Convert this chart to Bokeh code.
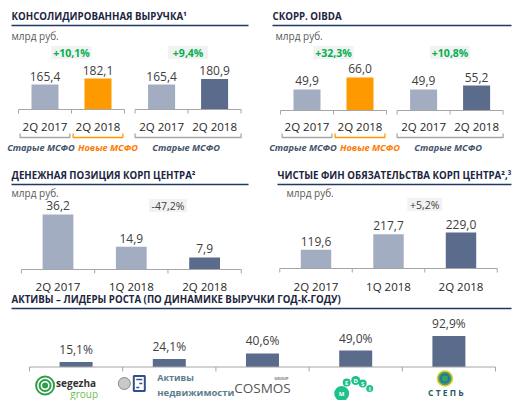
from bokeh.plotting import figure
from bokeh.models import Range1d
from bokeh.embed import file_html
from bokeh.resources import INLINE
from bokeh.core.properties import value

# ---------------- data ----------------
rev_periods = ["2Q 2017", "2Q 2018"]
rev_new_ifrs = [165.4, 182.1]
rev_old_ifrs = [165.4, 180.9]
rev_growth = ["+10,1%", "+9,4%"]

oibda_periods = ["2Q 2017", "2Q 2018"]
oibda_new_ifrs = [49.9, 66.0]
oibda_old_ifrs = [49.9, 55.2]
oibda_growth = ["+32,3%", "+10,8%"]

standard_labels = ["Старые МСФО", "Новые МСФО", "Старые МСФО"]

cash_periods = ["2Q 2017", "1Q 2018", "2Q 2018"]
cash_values = [36.2, 14.9, 7.9]
cash_change = "-47,2%"

debt_periods = ["2Q 2017", "1Q 2018", "2Q 2018"]
debt_values = [119.6, 217.7, 229.0]
debt_change = "+5,2%"

asset_names = ["Segezha Group", "Активы недвижимости", "COSMOS GROUP", "MEDSI", "СТЕПЬ"]
asset_growth = [15.1, 24.1, 40.6, 49.0, 92.9]

titles = ["КОНСОЛИДИРОВАННАЯ ВЫРУЧКА¹", "СКОРР. OIBDA",
          "ДЕНЕЖНАЯ ПОЗИЦИЯ КОРП ЦЕНТРА²", "ЧИСТЫЕ ФИН ОБЯЗАТЕЛЬСТВА КОРП ЦЕНТРА²,³",
          "АКТИВЫ – ЛИДЕРЫ РОСТА (ПО ДИНАМИКЕ ВЫРУЧКИ ГОД-К-ГОДУ)"]
unit_label = "млрд руб."

# ---------------- style ----------------
FONT = value("Open Sans")
LIGHT = "#a3adc2"
DARK = "#5b6b8b"
ORANGE = "#ff9900"
AXIS = "#a6a6a6"
NAVY = "#1f3864"
TITLE_C = "#1b2540"
VAL_C = "#404040"
CAT_C = "#262626"
GREEN = "#00b050"
SLATE = "#44546a"
NEW_C = "#ff7a00"
TITLE_SIZE = "9.7px"

W, H = 512, 400
BAR_STEP = 53.0


def fmt(v):
    return f"{v:.1f}".replace(".", ",")


p = figure(width=W, height=H, x_range=Range1d(0, W), y_range=Range1d(H, 0),
           output_backend="svg", toolbar_location=None, x_axis_type=None, y_axis_type=None,
           min_border=0, outline_line_color=None, background_fill_color="white",
           border_fill_color="white")
p.min_border_left = p.min_border_right = p.min_border_top = p.min_border_bottom = 0

xr_extra, yr_extra = {}, {}


def add_ranges(name, x0px, xs, ybase_px, ybase_val, ys):
    xr_extra[name] = Range1d((0 - x0px) / xs, (W - x0px) / xs)
    yr_extra[name] = Range1d(ybase_val - (H - ybase_px) / ys, ybase_val + ybase_px / ys)


add_ranges("A", 44.5, BAR_STEP, 109, 96.0, 0.36)
add_ranges("B", 306.5, BAR_STEP, 110, 21.7, 0.745)
add_ranges("C", 57.5, 73.3, 269, 0.0, 1.52)
add_ranges("D", 315.5, 72.5, 268, 0.0, 0.157)
E_X0, E_XS = 75.6, 93.2
add_ranges("E", E_X0, E_XS, 366.5, 0.0, 0.335)
p.extra_x_ranges = xr_extra
p.extra_y_ranges = yr_extra


def px_text(x, y, text, size, color, style="normal", align="left", baseline="middle", xr="default", **kw):
    p.text(x=x if isinstance(x, list) else [x], y=y if isinstance(y, list) else [y],
           text=text if isinstance(text, list) else [text], x_range_name=xr,
           text_font=FONT, text_font_size=size, text_color=color, text_font_style=style,
           text_align=align, text_baseline=baseline, **kw)


def header(x0, x1, y, title, unit_x, unit_y):
    px_text(x0, y, title, TITLE_SIZE, TITLE_C, "bold")
    p.segment(x0=[x0], y0=[y + 9], x1=[x1], y1=[y + 9], line_color=NAVY, line_width=1.6)
    if unit_x is not None:
        px_text(unit_x, unit_y, unit_label, "10px", "#595959")


def ifrs_panel(r, periods, new_vals, old_vals, growth, base_val, base_px, title, tx0, tx1, ux):
    g1 = [0.0, 1.0]
    g2 = [2.2, 3.2]
    xs = g1 + g2
    vals = new_vals + old_vals
    p.vbar(x=xs, top=vals, bottom=base_val, width=0.51, x_range_name=r, y_range_name=r,
           fill_color=[LIGHT, ORANGE, LIGHT, DARK], line_color=None)
    p.text(x=xs, y=vals, text=[fmt(v) for v in vals], x_range_name=r, y_range_name=r,
           text_font=FONT, text_font_size="12px", text_color=VAL_C, text_align="center",
           text_baseline="bottom", y_offset=-4)
    for g in (g1, g2):
        p.segment(x0=[g[0] - 0.5], y0=[base_val], x1=[g[-1] + 0.5], y1=[base_val],
                  x_range_name=r, y_range_name=r, line_color=AXIS, line_width=1)
        ticks = [g[0] - 0.5, g[0] + 0.5, g[-1] + 0.5]
        p.segment(x0=ticks, y0=[base_px] * 3, x1=ticks, y1=[base_px + 4] * 3,
                  x_range_name=r, line_color=AXIS, line_width=1)
    px_text(xs, [126] * 4, periods + periods, "11.5px", CAT_C, align="center", xr=r)
    bx = [[g1[0] - 0.47, g1[0] - 0.47, g1[0] + 0.47, g1[0] + 0.47],
          [g1[1] - 0.47, g1[1] - 0.47, g1[1] + 0.47, g1[1] + 0.47],
          [g2[0] - 0.5, g2[0] - 0.5, g2[1] + 0.5, g2[1] + 0.5]]
    by = [[133, 137, 137, 133]] * 3
    p.multi_line(xs=bx, ys=by, x_range_name=r, line_color=[AXIS, ORANGE, AXIS], line_width=1.3)
    offs_px = [-4, 10, -2]
    lx = [g1[0] + offs_px[0] / BAR_STEP, g1[1] + offs_px[1] / BAR_STEP,
          (g2[0] + g2[1]) / 2 + offs_px[2] / BAR_STEP]
    p.text(x=lx, y=[147] * 3, text=standard_labels, x_range_name=r,
           text_font=FONT, text_font_size="9.2px", text_font_style="bold italic",
           text_color=[SLATE, NEW_C, SLATE], text_align="center", text_baseline="middle")
    gx = [(g1[0] + g1[1]) / 2, (g2[0] + g2[1]) / 2]
    p.rect(x=gx, y=[52, 52], width=40, height=13, width_units="screen", height_units="screen",
           x_range_name=r, fill_color="#f2f2f2", line_color=None)
    px_text(gx, [52, 52], growth, "10.5px", GREEN, "bold", align="center", xr=r)
    header(tx0, tx1, 16, title, ux, 35)


def three_panel(r, periods, vals, change, base_px, title, tx0, tx1, ux, box_y, box_w):
    xs = [0, 1, 2]
    p.vbar(x=xs, top=vals, bottom=0, width=0.42, x_range_name=r, y_range_name=r,
           fill_color=[LIGHT, LIGHT, DARK], line_color=None)
    p.text(x=xs, y=vals, text=[fmt(v) for v in vals], x_range_name=r, y_range_name=r,
           text_font=FONT, text_font_size="12px", text_color=VAL_C, text_align="center",
           text_baseline="bottom", y_offset=-4)
    p.segment(x0=[-0.5], y0=[0], x1=[2.5], y1=[0], x_range_name=r, y_range_name=r,
              line_color=AXIS, line_width=1)
    ticks = [-0.5, 0.5, 1.5, 2.5]
    p.segment(x0=ticks, y0=[base_px] * 4, x1=ticks, y1=[base_px + 4] * 4,
              x_range_name=r, line_color=AXIS, line_width=1)
    px_text(xs, [286] * 3, periods, "11.5px", CAT_C, align="center", xr=r)
    p.rect(x=[1.5], y=[box_y], width=box_w, height=13, width_units="screen", height_units="screen",
           x_range_name=r, fill_color="#f2f2f2", line_color=None)
    px_text([1.5], [box_y], [change], "10.5px", VAL_C, align="center", xr=r)
    header(tx0, tx1, 175, title, ux, 192)


ifrs_panel("A", rev_periods, rev_new_ifrs, rev_old_ifrs, rev_growth, 96.0, 109,
           titles[0], 11, 248, 11)
ifrs_panel("B", oibda_periods, oibda_new_ifrs, oibda_old_ifrs, oibda_growth, 21.7, 110,
           titles[1], 272, 511, 275)
three_panel("C", cash_periods, cash_values, cash_change, 269, titles[2], 11, 248, 11, 205, 38)
three_panel("D", debt_periods, debt_values, debt_change, 268, titles[3], 277, 511, 286, 204, 35)

# ---------------- panel E: growth leaders ----------------
ex = list(range(len(asset_growth)))
p.vbar(x=ex, top=asset_growth, bottom=0, width=0.354, x_range_name="E", y_range_name="E",
       fill_color=DARK, line_color=None)
p.text(x=ex, y=asset_growth, text=[fmt(v) + "%" for v in asset_growth], x_range_name="E",
       y_range_name="E", text_font=FONT, text_font_size="12px", text_color=VAL_C,
       text_align="center", text_baseline="bottom", y_offset=-4)
p.segment(x0=[-0.5], y0=[0], x1=[len(ex) - 0.5], y1=[0], x_range_name="E", y_range_name="E",
          line_color=AXIS, line_width=1)
eticks = [i - 0.5 for i in range(len(ex) + 1)]
p.segment(x0=eticks, y0=[366.5] * len(eticks), x1=eticks, y1=[371] * len(eticks),
          x_range_name="E", line_color=AXIS, line_width=1)
header(11, 511, 299, titles[4], None, None)

cx = [E_X0 + E_XS * i for i in ex]
# logo 1: Segezha Group
c = cx[0]
p.scatter(x=[c - 31] * 3, y=[385] * 3, size=[18, 11, 4],
          fill_color=[None, None, "#2e9e48"], line_color="#2e9e48", line_width=2)
px_text(c - 20, 382, "segezha", "10px", "#333333", "bold")
px_text(c + 22, 393, "group", "10px", "#6abf4b", "normal", align="right")
# logo 2: Активы недвижимости
c = cx[1]
p.scatter(x=[c - 45], y=[383], size=12, fill_color="#c9c9c9", line_color="#8a8a8a", line_width=1)
p.rect(x=[c - 30], y=[383], width=11, height=15, fill_color="white", line_color="#34508a",
       line_width=2)
p.segment(x0=[c - 33, c - 30, c - 33], y0=[379, 383, 387], x1=[c - 27, c - 27, c - 30],
          y1=[379, 383, 387], line_color="#34508a", line_width=1.5)
px_text(c - 12, 377, "Активы", "9px", "#5d7d8d", "bold")
px_text(c - 12, 392, "недвижимости", "9.5px", "#5d7d8d", "bold")
# logo 3: COSMOS
c = cx[2]
px_text(c, 387, "COSMOS", "13.5px", "#555555", "normal", align="center")
px_text(c + 19, 378, "GROUP", "4px", "#777777", "bold", align="center")
# logo 4: MEDSI
c = cx[3]
mx = [c - 14, c - 9, c, c + 7, c + 14]
my = [393, 382, 380, 383, 388]
ms = [15, 8, 9, 8, 7]
p.scatter(x=mx, y=my, size=ms, fill_color="#20c08a", line_color=None)
px_text(mx, my, list("MEDSI"), "6px", "white", "bold", align="center")
# logo 5: СТЕПЬ
c = cx[4]
p.scatter(x=[c - 4], y=[378], size=[15], fill_color="#3aa655", line_color="#e8c83a", line_width=1.5)
p.scatter(x=[c - 4], y=[378], size=[8], fill_color=None, line_color="#2a6fb0", line_width=2)
px_text(c - 3, 392, "С Т Е П Ь", "8.5px", "#2d5d6d", "bold", align="center")

with open("out.html", "w") as f:
    f.write(file_html(p, INLINE))
